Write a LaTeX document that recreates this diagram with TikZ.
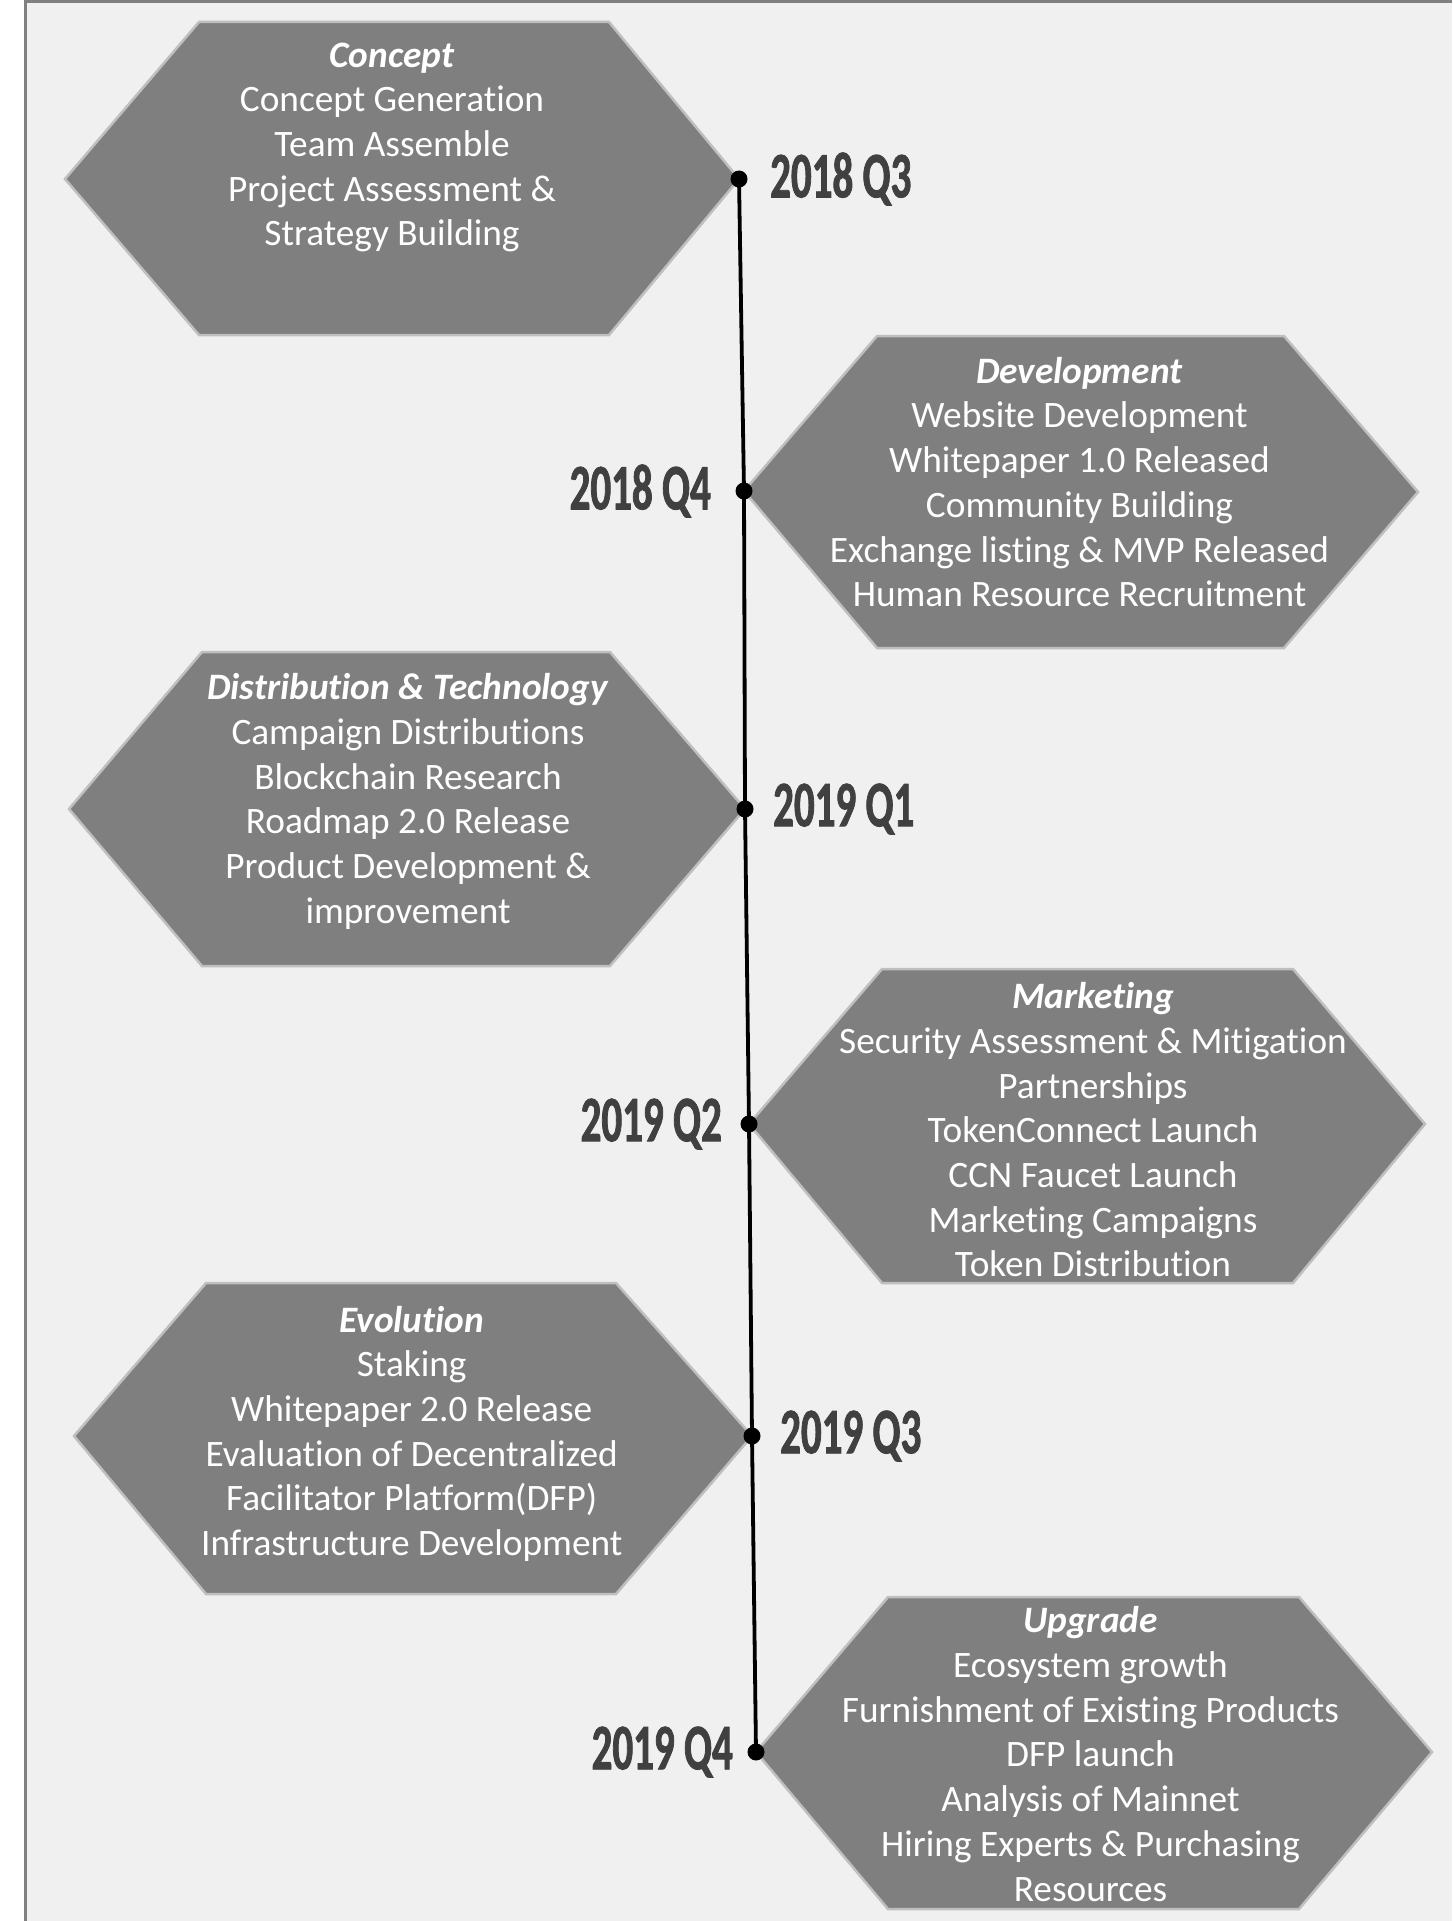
\documentclass[tikz,border=0pt]{standalone}
\usepackage{fontspec}
\setmainfont{Carlito}[Ligatures=NoCommon,RawFeature={-calt}]
\newfontfamily\datefont[FakeStretch=0.63,FakeBold=1.2]{Carlito Bold}
\usepackage{tikz}

\definecolor{pagebg}{HTML}{F0F0F0}
\definecolor{framegray}{HTML}{808080}
\definecolor{hexfill}{HTML}{7F7F7F}
\definecolor{hexline}{HTML}{BFBFBF}
\definecolor{datecol}{HTML}{404040}

\begin{document}
\begin{tikzpicture}[x=1pt,y=-1pt,
  hexa/.style={fill=hexfill,draw=hexline,line width=2.5pt,line join=miter},
  phase/.style={text=white,align=center,inner sep=0pt,font={\fontsize{37.3}{44.7}\selectfont}},
  milestone/.style={circle,fill=black,minimum size=17pt,inner sep=0pt},
  datelbl/.style={text=datecol,inner sep=0pt,font={\fontsize{65}{70}\datefont}}]
\useasboundingbox (0,0) rectangle (1452,1921);
\fill[white] (0,0) rectangle (1452,1921);
\fill[pagebg] (24,0) rectangle (1452,1921);
\draw[framegray,line width=3pt] (25.5,1921) -- (25.5,1.5) -- (1452,1.5);

% hexagons
\draw[hexa] (65,179) -- (199,22) -- (609,22) -- (739,179) -- (609,335) -- (199,335) -- cycle;
\draw[hexa] (744,491) -- (877,336) -- (1284,336) -- (1418,492) -- (1284,648) -- (877,648) -- cycle;
\draw[hexa] (69,809) -- (202,652) -- (610,652) -- (745,809) -- (610,966) -- (202,966) -- cycle;
\draw[hexa] (749,1124) -- (882,969) -- (1293,969) -- (1425,1124) -- (1293,1283) -- (882,1283) -- cycle;
\draw[hexa] (74,1436) -- (206,1283) -- (616,1283) -- (752,1436) -- (616,1594) -- (206,1594) -- cycle;
\draw[hexa] (756,1752) -- (888,1597) -- (1299,1597) -- (1432,1752) -- (1299,1909) -- (888,1909) -- cycle;

% phase texts
\node[phase] (concept) at (392,147.5) {\textbf{\textit{Concept}}\\Concept Generation\\Team Assemble\\Project Assessment \&\\Strategy Building};
\node[phase] (develop) at (1079.5,482) {\textbf{\textit{Development}}\\Website Development\\Whitepaper 1.0 Released\\Community Building\\Exchange listing \& MVP Released\\Human Resource Recruitment};
\node[phase] (distrib) at (408,801.5) {\textbf{\textit{Distribution \& Technology}}\\Campaign Distributions\\Blockchain Research\\Roadmap 2.0 Release\\Product Development \&\\improvement};
\node[phase] (market) at (1093,1129.8) {\textbf{\textit{Marketing}}\\Security Assessment \& Mitigation\\Partnerships\\TokenConnect Launch\\CCN Faucet Launch\\Marketing Campaigns\\Token Distribution};
\node[phase] (evolve) at (411.7,1433.8) {\textbf{\textit{Evolution}}\\Staking\\Whitepaper 2.0 Release\\Evaluation of Decentralized\\Facilitator Platform(DFP)\\Infrastructure Development};
\node[phase] (upgrade) at (1090.5,1754) {\textbf{\textit{Upgrade}}\\Ecosystem growth\\Furnishment of Existing Products\\DFP launch\\Analysis of Mainnet\\Hiring Experts \& Purchasing\\Resources};

% timeline
\node[milestone] (m1) at (739,179) {};
\node[milestone] (m2) at (744,491) {};
\node[milestone] (m3) at (745,809) {};
\node[milestone] (m4) at (749,1124) {};
\node[milestone] (m5) at (752,1436) {};
\node[milestone] (m6) at (756,1752) {};
\draw[line width=3.8pt] (m1.center) -- (m2.center) -- (m3.center) -- (m4.center) -- (m5.center) -- (m6.center);

\node[datelbl,anchor=west] (t1) at ([xshift=31pt]m1.center) {2018 Q3};
\node[datelbl,anchor=east] (t2) at ([xshift=-33pt]m2.center) {2018 Q4};
\node[datelbl,anchor=west] (t3) at ([xshift=28pt]m3.center) {2019 Q1};
\node[datelbl,anchor=east] (t4) at ([xshift=-27pt]m4.center) {2019 Q2};
\node[datelbl,anchor=west] (t5) at ([xshift=28pt]m5.center) {2019 Q3};
\node[datelbl,anchor=east] (t6) at ([xshift=-23pt]m6.center) {2019 Q4};
\end{tikzpicture}
\end{document}
